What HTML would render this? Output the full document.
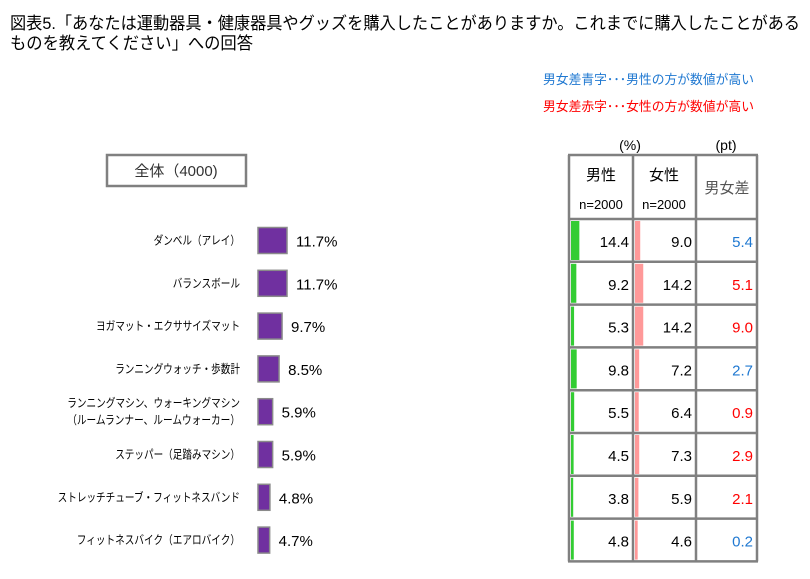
<!DOCTYPE html>
<html><head><meta charset="utf-8"><style>
body{margin:0;background:#fff;}
svg{display:block;font-family:"Liberation Sans","Noto Sans CJK JP",sans-serif;}
</style></head><body>
<svg id="c" width="810" height="579">
<text x="10" y="29" font-size="17" textLength="790" lengthAdjust="spacingAndGlyphs">図表5.「あなたは運動器具・健康器具やグッズを購入したことがありますか。これまでに購入したことがある</text>
<text x="10" y="49" font-size="17" textLength="243" lengthAdjust="spacingAndGlyphs">ものを教えてください」への回答</text>
<text x="543" y="84" font-size="13" fill="#1f78d1" textLength="211" lengthAdjust="spacingAndGlyphs">男女差青字･･･男性の方が数値が高い</text>
<text x="543" y="111" font-size="13" fill="#ff0000" textLength="211" lengthAdjust="spacingAndGlyphs">男女差赤字･･･女性の方が数値が高い</text>
<rect x="107" y="155" width="139" height="31" fill="none" stroke="#808080" stroke-width="2.5"/>
<text x="176" y="176" font-size="15" text-anchor="middle" fill="#333">全体（4000)</text>
<text x="630" y="150" font-size="14" text-anchor="middle">(%)</text>
<text x="726" y="150" font-size="14" text-anchor="middle">(pt)</text>
<g id="rows"></g>
<g id="table"></g>
</svg>
<script>
const categories=["ダンベル（アレイ）","バランスボール","ヨガマット・エクササイズマット","ランニングウォッチ・歩数計","ランニングマシン、ウォーキングマシン|（ルームランナー、ルームウォーカー）","ステッパー（足踏みマシン）","ストレッチチューブ・フィットネスバンド","フィットネスバイク（エアロバイク）"];
const totalValues=[11.7,11.7,9.7,8.5,5.9,5.9,4.8,4.7];
const maleValues=[14.4,9.2,5.3,9.8,5.5,4.5,3.8,4.8];
const femaleValues=[9.0,14.2,14.2,7.2,6.4,7.3,5.9,4.6];
const diffValues=[5.4,-5.1,-9.0,2.7,-0.9,-2.9,-2.1,0.2];
const NS="http://www.w3.org/2000/svg";
function mk(t,a,p,txt){const e=document.createElementNS(NS,t);for(const k in a)e.setAttribute(k,a[k]);if(txt!=null)e.textContent=txt;p.appendChild(e);return e;}
const rowsG=document.getElementById('rows'),tab=document.getElementById('table');
const rowTop=y=>219+y*42.8;
const xBar=v=>v*2.48;
const xMini=v=>v*0.58;
const cols=[569,633,696,757];
categories.forEach((c,i)=>{
  const cy=rowTop(i)+21.5;
  const parts=c.split('|');
  parts.forEach((p,j)=>{
    const t=mk('text',{x:240,y:cy+4+(parts.length>1?(j-0.5)*17:0),'font-size':12,'text-anchor':'end',textLength:p.length*9.6,lengthAdjust:'spacingAndGlyphs'},rowsG,p);
    
    
  });
  const b=mk('rect',{x:258,y:cy-13,width:xBar(totalValues[i]),height:26,fill:'#7030a0',stroke:'#8a8a8a','stroke-width':1.5},rowsG);
  
  
  const v=mk('text',{x:258+xBar(totalValues[i])+9,y:cy+6,'font-size':15},rowsG,totalValues[i].toFixed(1)+'%');
  
  
  const top=rowTop(i);
  const gm=mk('rect',{x:cols[0]+2,y:top+2,width:xMini(maleValues[i]),height:39,fill:'#33cc33'},tab);
  
  
  const gf=mk('rect',{x:cols[1]+2,y:top+2,width:xMini(femaleValues[i]),height:39,fill:'#ff9999'},tab);
  
  
  const tm=mk('text',{x:cols[1]-4,y:top+28,'font-size':15,'text-anchor':'end'},tab,maleValues[i].toFixed(1));
  
  
  const tf=mk('text',{x:cols[2]-4,y:top+28,'font-size':15,'text-anchor':'end'},tab,femaleValues[i].toFixed(1));
  
  
  const d=diffValues[i];
  const td=mk('text',{x:cols[3]-4,y:top+28,'font-size':15,'text-anchor':'end',fill:d>=0?'#1f78d1':'#ff0000'},tab,Math.abs(d).toFixed(1));
  
  
});
const bottom=rowTop(categories.length);
const hdr=[["男性",601],["女性",664]];
hdr.forEach(h=>{const t=mk('text',{x:h[1],y:180,'font-size':15,'text-anchor':'middle'},tab,h[0]);
const n=mk('text',{x:h[1],y:209,'font-size':13,'text-anchor':'middle'},tab,'n=2000');});
const hd=mk('text',{x:727,y:193,'font-size':15,'text-anchor':'middle',fill:'#555'},tab,'男女差');


cols.forEach(x=>{const l=mk('line',{x1:x,x2:x,y1:155,y2:bottom,stroke:'#808080','stroke-width':2.5},tab);});
[155].concat(categories.map((c,i)=>rowTop(i)),[bottom]).forEach(y=>{const l=mk('line',{x1:cols[0]-1,x2:cols[3]+1,y1:y,y2:y,stroke:'#808080','stroke-width':2.5},tab);});
</script>
</body></html>
